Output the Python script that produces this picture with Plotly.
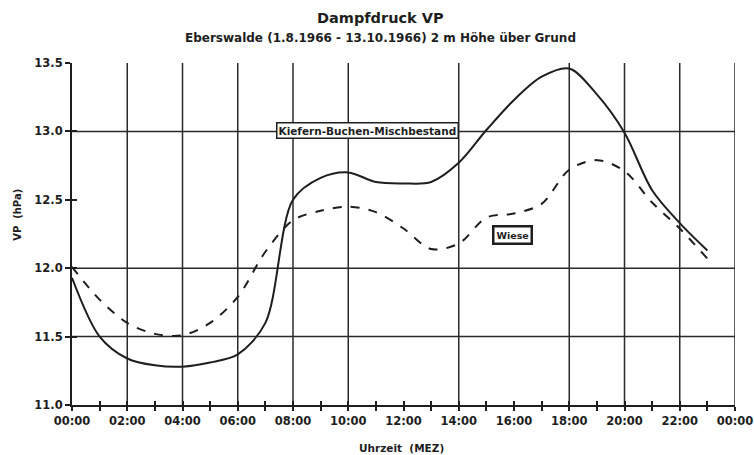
import plotly.graph_objects as go

# ---- data ----
hours = list(range(0, 24))
mischbestand = [11.93, 11.50, 11.34, 11.29, 11.28, 11.31, 11.37, 11.60, 12.50, 12.66,
                12.70, 12.63, 12.62, 12.63, 12.77, 13.01, 13.23, 13.40, 13.46, 13.27,
                12.99, 12.57, 12.33, 12.13]
wiese = [12.01, 11.77, 11.60, 11.52, 11.51, 11.60, 11.79, 12.12, 12.35, 12.42,
         12.45, 12.41, 12.29, 12.14, 12.18, 12.37, 12.40, 12.47, 12.72, 12.79,
         12.71, 12.48, 12.29, 12.07]

x_tickvals = list(range(0, 25, 2))
x_ticktext = ["00:00", "02:00", "04:00", "06:00", "08:00", "10:00", "12:00",
              "14:00", "16:00", "18:00", "20:00", "22:00", "00:00"]
y_tickvals = [11.0, 11.5, 12.0, 12.5, 13.0, 13.5]
y_ticktext = ["11.0", "11.5", "12.0", "12.5", "13.0", "13.5"]
vgrid_hours = [2, 4, 6, 8, 10, 14, 18, 20, 22, 24]
hgrid_values = [11.5, 12.0, 13.0]

INK = "#1e1e1e"
FONT = "DejaVu Sans, sans-serif"

fig = go.Figure()
fig.add_trace(go.Scatter(x=hours, y=mischbestand, mode="lines", name="Kiefern-Buchen-Mischbestand",
                         line=dict(color=INK, width=2, shape="spline", smoothing=0.9)))
fig.add_trace(go.Scatter(x=hours, y=wiese, mode="lines", name="Wiese",
                         line=dict(color=INK, width=2, dash="dash", shape="spline", smoothing=0.9)))
# dummy trace for the overlay axes (inner half of crossing ticks)
fig.add_trace(go.Scatter(x=[None], y=[None], xaxis="x2", yaxis="y2", showlegend=False, hoverinfo="skip"))

shapes = []
for h in vgrid_hours:
    shapes.append(dict(type="line", xref="x", yref="y", x0=h, x1=h, y0=11.0, y1=13.5,
                       line=dict(color="#2a2a2a", width=1.5), layer="below"))
for v in hgrid_values:
    shapes.append(dict(type="line", xref="x", yref="y", x0=0, x1=24, y0=v, y1=v,
                       line=dict(color="#2a2a2a", width=1.5), layer="below"))

tickfont = dict(family=FONT, size=11.5, color=INK, weight="bold")

fig.update_layout(
    width=754, height=455,
    margin=dict(l=72, r=19, t=63, b=50),
    paper_bgcolor="white", plot_bgcolor="white",
    showlegend=False,
    shapes=shapes,
    xaxis=dict(range=[0, 24], tickvals=x_tickvals, ticktext=x_ticktext, showgrid=False,
               zeroline=False, showline=True, linecolor=INK, linewidth=2, automargin=False,
               ticks="outside", ticklen=4, tickwidth=1.5, tickcolor=INK, tickfont=tickfont,
               minor=dict(dtick=1, ticks="outside", ticklen=4, tickwidth=1.5, tickcolor=INK)),
    yaxis=dict(range=[11.0, 13.5], tickvals=y_tickvals, ticktext=y_ticktext, showgrid=False,
               zeroline=False, showline=True, linecolor=INK, linewidth=2, automargin=False,
               ticks="outside", ticklen=5, tickwidth=1.5, tickcolor=INK, tickfont=tickfont),
    xaxis2=dict(overlaying="x", range=[0, 24], tickvals=x_tickvals, showticklabels=False,
                showgrid=False, zeroline=False, ticks="inside", ticklen=4, tickwidth=1.5,
                tickcolor=INK, side="bottom", anchor="y2", automargin=False,
                minor=dict(dtick=1, ticks="inside", ticklen=4, tickwidth=1.5, tickcolor=INK)),
    yaxis2=dict(overlaying="y", range=[11.0, 13.5], tickvals=y_tickvals, showticklabels=False,
                showgrid=False, zeroline=False, ticks="inside", ticklen=5, tickwidth=1.5,
                tickcolor=INK, side="left", anchor="x2", automargin=False),
    annotations=[
        dict(text="Dampfdruck VP", xref="paper", yref="paper", x=0.466, y=1, yshift=45,
             xanchor="center", yanchor="middle",
             showarrow=False, font=dict(family=FONT, size=14.5, color=INK, weight="bold")),
        dict(text="Eberswalde (1.8.1966 - 13.10.1966) 2 m Höhe über Grund", xref="paper", yref="paper",
             x=0.466, y=1, yshift=25, xanchor="center", yanchor="middle", showarrow=False,
             font=dict(family=FONT, size=12, color=INK, weight="bold")),
        dict(text="VP  (hPa)", xref="paper", yref="paper", x=0, xshift=-54, y=0.556, textangle=-90,
             xanchor="center", yanchor="middle",
             showarrow=False, font=dict(family=FONT, size=10, color=INK, weight="bold")),
        dict(text="Uhrzeit  (MEZ)", xref="paper", yref="paper", x=0.497, y=0, yshift=-43,
             xanchor="center", yanchor="middle",
             showarrow=False, font=dict(family=FONT, size=10.5, color=INK, weight="bold")),
        dict(text="Kiefern-Buchen-Mischbestand", xref="x", yref="y", x=10.7, y=13.01, showarrow=False,
             bgcolor="white", bordercolor=INK, borderwidth=1.5, borderpad=1,
             font=dict(family=FONT, size=10.5, color=INK, weight="bold")),
        dict(text="Wiese", xref="x", yref="y", x=15.93, y=12.24, showarrow=False,
             bgcolor="white", bordercolor=INK, borderwidth=2.5, borderpad=2,
             font=dict(family=FONT, size=9.5, color=INK, weight="bold")),
    ],
)

fig.write_html("out.html", config={"displayModeBar": False},
               post_script="document.body.style.margin='0';")
